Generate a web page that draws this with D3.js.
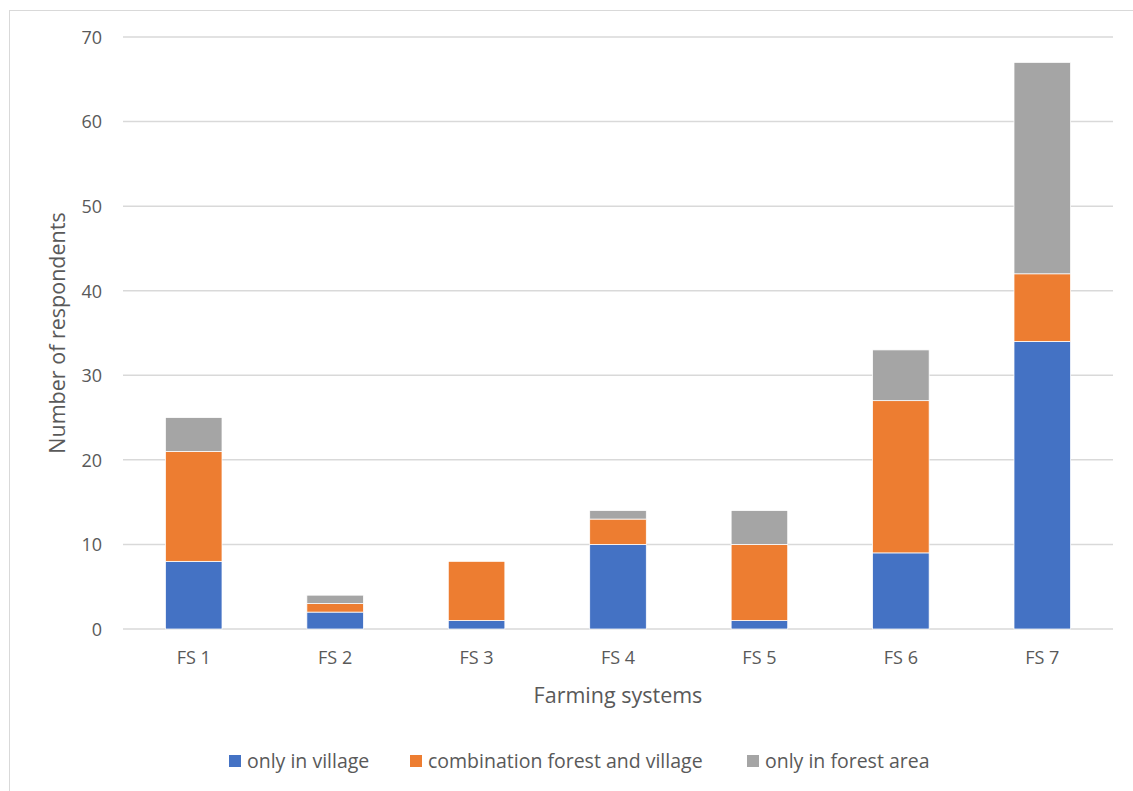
<!DOCTYPE html>
<html>
<head>
<meta charset="utf-8">
<script src="https://cdn.jsdelivr.net/npm/d3@7"></script>
<style>
  body { margin: 0; background: #fff; }
  svg text { font-family: "Open Sans", "Noto Sans", sans-serif; fill: #595959; }
</style>
</head>
<body>
<svg id="chart" width="1133" height="791"></svg>
<script>
// Farming systems and respondent counts by location of activity
const categories = ["FS 1", "FS 2", "FS 3", "FS 4", "FS 5", "FS 6", "FS 7"];
const seriesNames = ["only in village", "combination forest and village", "only in forest area"];
const onlyVillage = [8, 2, 1, 10, 1, 9, 34];
const combination = [13, 1, 7, 3, 9, 18, 8];
const onlyForest = [4, 1, 0, 1, 4, 6, 25];
const yTicks = [0, 10, 20, 30, 40, 50, 60, 70];
const colors = ["#4472c4", "#ed7d31", "#a5a5a5"];

const svg = d3.select("#chart");

// chart frame
svg.append("rect")
  .attr("x", 9.5).attr("y", 10.5)
  .attr("width", 1140).attr("height", 800)
  .attr("fill", "none").attr("stroke", "#d9d9d9").attr("stroke-width", 1);

const plot = { left: 123, right: 1113, top: 37, bottom: 629 };

const x = d3.scaleBand()
  .domain(categories)
  .range([plot.left, plot.right])
  .paddingInner(0.6)
  .paddingOuter(0.3);

const y = d3.scaleLinear()
  .domain([0, 70])
  .range([plot.bottom, plot.top]);

// gridlines
svg.append("g")
  .selectAll("line")
  .data(yTicks)
  .join("line")
  .attr("x1", plot.left).attr("x2", plot.right)
  .attr("y1", d => y(d)).attr("y2", d => y(d))
  .attr("stroke", "#d9d9d9").attr("stroke-width", 1.5);

// y axis labels
const yAxis = d3.axisLeft(y).tickValues(yTicks).tickSize(0).tickPadding(0);
const yg = svg.append("g")
  .attr("transform", `translate(${plot.left - 21},0)`)
  .call(yAxis);
yg.select(".domain").remove();
yg.selectAll("text")
  .style("font-size", "18px")
  .attr("dy", "0.35em");

// x axis labels
const xAxis = d3.axisBottom(x).tickSize(0).tickPadding(0);
const xg = svg.append("g")
  .attr("transform", `translate(0,${plot.bottom + 22})`)
  .call(xAxis);
xg.select(".domain").remove();
xg.selectAll("text")
  .style("font-size", "18px")
  .attr("dy", "0.71em");

// stacked bars
const rows = categories.map((c, i) => ({
  cat: c,
  [seriesNames[0]]: onlyVillage[i],
  [seriesNames[1]]: combination[i],
  [seriesNames[2]]: onlyForest[i]
}));
const stacked = d3.stack().keys(seriesNames)(rows);

svg.append("g")
  .selectAll("g")
  .data(stacked)
  .join("g")
  .attr("fill", (d, i) => colors[i])
  .selectAll("rect")
  .data(d => d.filter(p => p[1] - p[0] > 0))
  .join("rect")
  .attr("x", d => x(d.data.cat))
  .attr("width", x.bandwidth())
  .attr("y", d => y(d[1]))
  .attr("height", d => y(d[0]) - y(d[1]))
  .attr("stroke", "#ffffff")
  .attr("stroke-width", 0.75);

// axis titles
svg.append("text")
  .attr("x", (plot.left + plot.right) / 2)
  .attr("y", 703)
  .attr("text-anchor", "middle")
  .style("font-size", "21.5px")
  .text("Farming systems");

svg.append("text")
  .attr("transform", `translate(65,${(plot.top + plot.bottom) / 2}) rotate(-90)`)
  .attr("text-anchor", "middle")
  .style("font-size", "21.5px")
  .text("Number of respondents");

// legend
const legendX = [229, 410, 747];
const legend = svg.append("g")
  .selectAll("g")
  .data(seriesNames)
  .join("g")
  .attr("transform", (d, i) => `translate(${legendX[i]},761)`);
legend.append("rect")
  .attr("x", 0).attr("y", -6)
  .attr("width", 12).attr("height", 12)
  .attr("fill", (d, i) => colors[i]);
legend.append("text")
  .attr("x", 18).attr("y", 0)
  .attr("dy", "0.35em")
  .style("font-size", "19.5px")
  .text(d => d);
</script>
</body>
</html>
